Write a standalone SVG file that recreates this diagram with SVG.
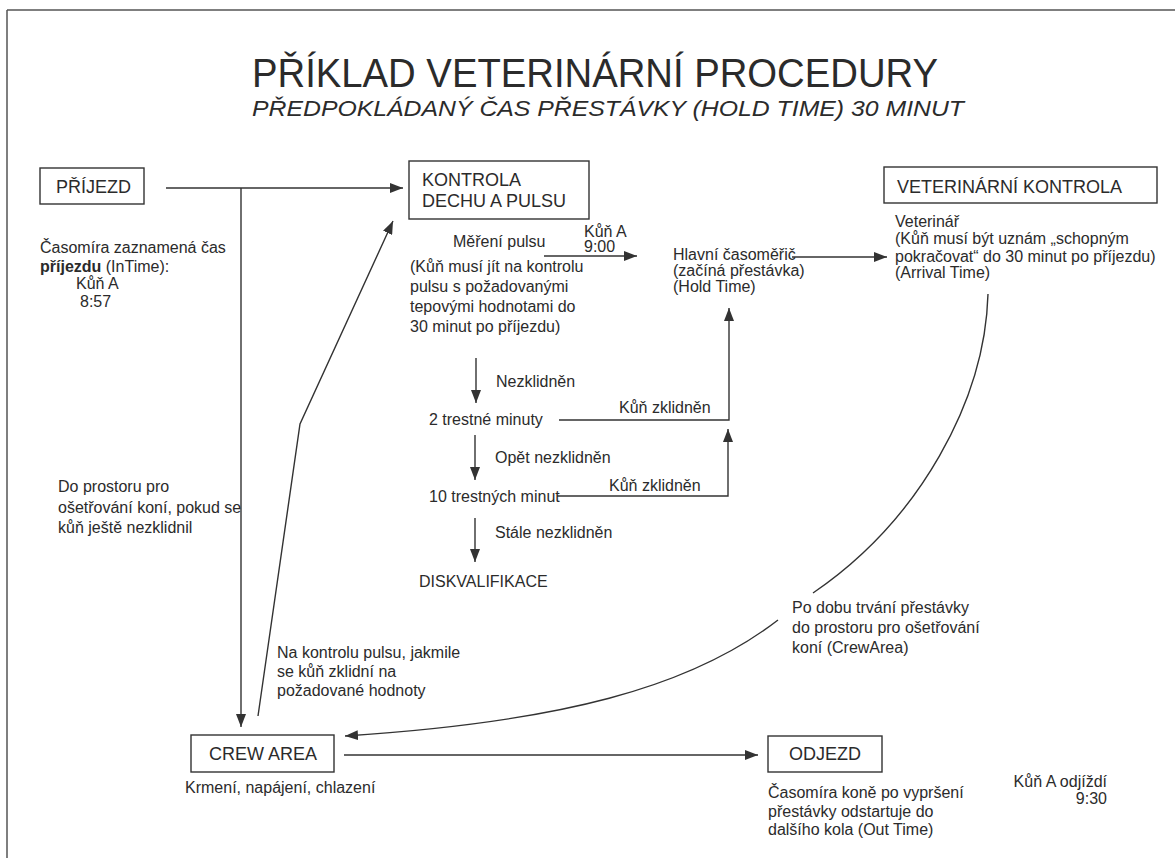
<svg xmlns="http://www.w3.org/2000/svg" width="1175" height="866" viewBox="0 0 1175 866">
<style>
text{font-family:"Liberation Sans",Arial,sans-serif;fill:#2b2b2b}
.b{font-size:16px}
.h{font-size:18px}
.box{fill:none;stroke:#333;stroke-width:1.4}
.ln{fill:none;stroke:#333;stroke-width:1.4}
.ar{fill:none;stroke:#333;stroke-width:1.4;marker-end:url(#ah)}
.frame{stroke:#555;stroke-width:1.5}
</style>
<defs>
<marker id="ah" viewBox="0 0 13 10" refX="13" refY="5" markerWidth="13" markerHeight="10" markerUnits="userSpaceOnUse" orient="auto">
<path d="M0,0 L13,5 L0,10 z" fill="#333"/>
</marker>
</defs>
<rect width="1175" height="866" fill="#fff"/>
<g id="frame">
<line class="frame" x1="7" y1="10" x2="1175" y2="10"/>
<line class="frame" x1="7" y1="10" x2="7" y2="858"/>
</g>
<g id="title">
<text x="252" y="87" font-size="41" textLength="686" lengthAdjust="spacingAndGlyphs">PŘÍKLAD VETERINÁRNÍ PROCEDURY</text>
<text x="252" y="116" font-size="22" font-style="italic" textLength="712" lengthAdjust="spacingAndGlyphs">PŘEDPOKLÁDANÝ ČAS PŘESTÁVKY (HOLD TIME) 30 MINUT</text>
</g>
<g id="connectors">
<line class="ar" x1="166" y1="188" x2="403" y2="188"/>
<line class="ar" x1="241" y1="188" x2="241" y2="727"/>
<polyline class="ar" points="258,716 300,424 393,221"/>
<line class="ar" x1="544" y1="256" x2="637" y2="256"/>
<line class="ar" x1="476" y1="358" x2="476" y2="403"/>
<line class="ar" x1="475" y1="435" x2="475" y2="480"/>
<line class="ar" x1="475" y1="518" x2="475" y2="562"/>
<polyline class="ar" points="559,420 729,420 729,308"/>
<polyline class="ar" points="557,496 728,496 728,429"/>
<line class="ar" x1="792" y1="257" x2="887" y2="257"/>
<path class="ln" d="M988,294 C985,400 920,520 813,593"/>
<path class="ar" d="M778,620 C690,688 560,722 345,736"/>
<line class="ar" x1="344" y1="755" x2="758" y2="755"/>
</g>
<g id="prijezd">
<rect class="box" x="40" y="168" width="104" height="36"/>
<text class="h" x="56" y="193">PŘÍJEZD</text>
</g>
<g id="prijezd-note">
<text class="b" x="40" y="253">Časomíra zaznamená čas</text>
<text class="b" x="40" y="272"><tspan font-weight="bold">příjezdu</tspan> (InTime):</text>
<text class="b" x="76" y="289">Kůň A</text>
<text class="b" x="80" y="307">8:57</text>
</g>
<g id="kontrola">
<rect class="box" x="409" y="161" width="180" height="58"/>
<text class="h" x="422" y="186">KONTROLA</text>
<text class="h" x="422" y="207">DECHU A PULSU</text>
</g>
<g id="mereni">
<text class="b" x="453" y="247">Měření pulsu</text>
<text class="b" x="584" y="237">Kůň A</text>
<text class="b" x="584" y="252">9:00</text>
</g>
<g id="kontrola-note">
<text class="b" x="410" y="272">(Kůň musí jít na kontrolu</text>
<text class="b" x="410" y="292">pulsu s požadovanými</text>
<text class="b" x="410" y="312">tepovými hodnotami do</text>
<text class="b" x="410" y="332">30 minut po příjezdu)</text>
</g>
<g id="penalty">
<text class="b" x="496" y="387">Nezklidněn</text>
<text class="b" x="429" y="425">2 trestné minuty</text>
<text class="b" x="619" y="413">Kůň zklidněn</text>
<text class="b" x="495" y="463">Opět nezklidněn</text>
<text class="b" x="429" y="502">10 trestných minut</text>
<text class="b" x="609" y="491">Kůň zklidněn</text>
<text class="b" x="495" y="538">Stále nezklidněn</text>
<text class="b" x="419" y="587">DISKVALIFIKACE</text>
</g>
<g id="casomeric">
<text class="b" x="673" y="260">Hlavní časoměřič</text>
<text class="b" x="673" y="276">(začíná přestávka)</text>
<text class="b" x="673" y="292">(Hold Time)</text>
</g>
<g id="veterinarni-kontrola">
<rect class="box" x="884" y="167" width="273" height="36"/>
<text class="h" x="897" y="193">VETERINÁRNÍ KONTROLA</text>
</g>
<g id="vet-note">
<text class="b" x="895" y="227">Veterinář</text>
<text class="b" x="895" y="244">(Kůň musí být uznám „schopným</text>
<text class="b" x="895" y="262">pokračovat“ do 30 minut po příjezdu)</text>
<text class="b" x="895" y="278">(Arrival Time)</text>
</g>
<g id="hold-note">
<text class="b" x="792" y="613">Po dobu trvání přestávky</text>
<text class="b" x="792" y="633">do prostoru pro ošetřování</text>
<text class="b" x="792" y="653">koní (CrewArea)</text>
</g>
<g id="left-notes">
<text class="b" x="58" y="492">Do prostoru pro</text>
<text class="b" x="58" y="513">ošetřování koní, pokud se</text>
<text class="b" x="58" y="533">kůň ještě nezklidnil</text>
<text class="b" x="277" y="658">Na kontrolu pulsu, jakmile</text>
<text class="b" x="277" y="677">se kůň zklidní na</text>
<text class="b" x="277" y="696">požadované hodnoty</text>
</g>
<g id="crew-area">
<rect class="box" x="191" y="735" width="143" height="37"/>
<text class="h" x="209" y="760">CREW AREA</text>
<text class="b" x="185" y="793">Krmení, napájení, chlazení</text>
</g>
<g id="odjezd">
<rect class="box" x="768" y="736" width="114" height="36"/>
<text class="h" x="789" y="760">ODJEZD</text>
<text class="b" x="768" y="798">Časomíra koně po vypršení</text>
<text class="b" x="768" y="817">přestávky odstartuje do</text>
<text class="b" x="768" y="835">dalšího kola (Out Time)</text>
</g>
<g id="odjezd-time">
<text class="b" x="1107" y="787" text-anchor="end">Kůň A odjíždí</text>
<text class="b" x="1107" y="804" text-anchor="end">9:30</text>
</g>
</svg>
